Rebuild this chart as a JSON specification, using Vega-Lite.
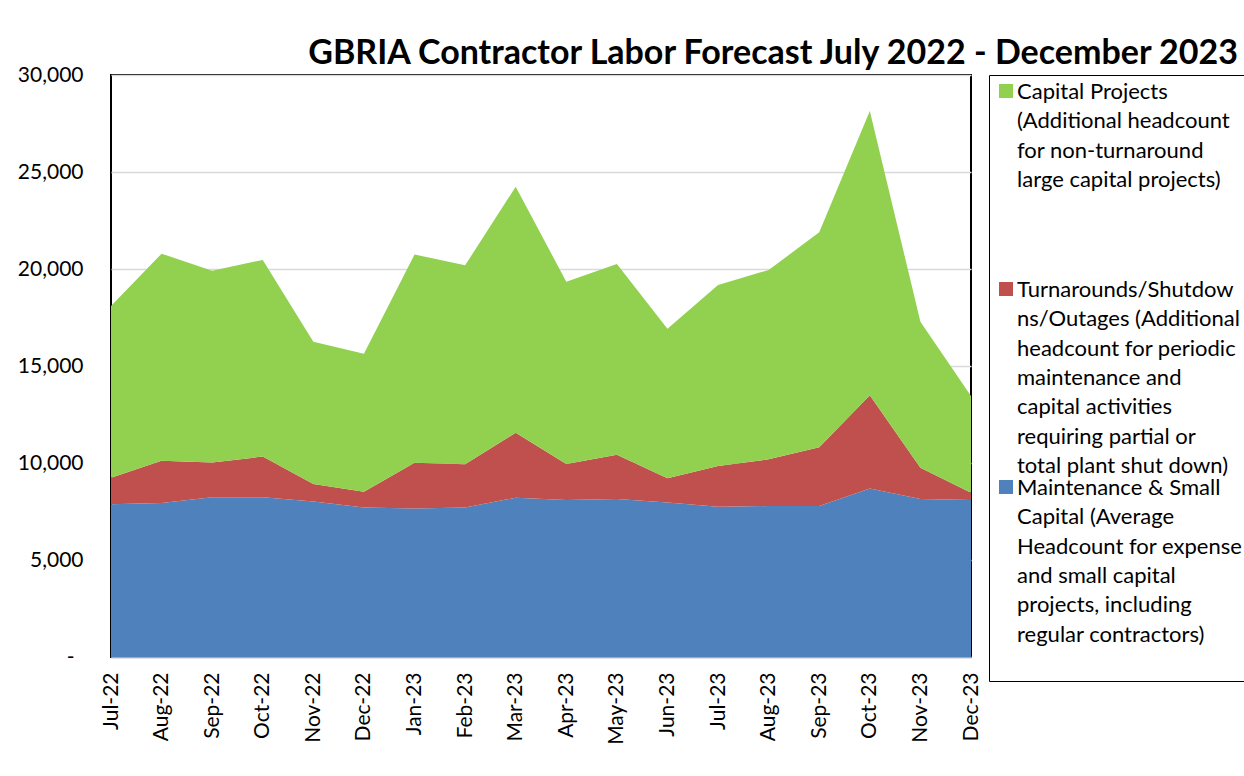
{
  "$schema": "https://vega.github.io/schema/vega-lite/v6.json",
  "width": 860,
  "height": 582,
  "padding": {"left": 17, "top": 37, "right": 0, "bottom": 0},
  "background": "white",
  "title": {
    "text": "GBRIA Contractor Labor Forecast July 2022 - December 2023",
    "anchor": "end",
    "frame": "group",
    "dx": 267,
    "offset": -7,
    "fontSize": 34,
    "font": "Lato",
    "fontWeight": "bold",
    "color": "#000000"
  },
  "data": {
    "values": [
      {"month": "Jul-22", "series": "Maintenance", "layer": 1, "value": 7870},
      {"month": "Aug-22", "series": "Maintenance", "layer": 1, "value": 7940},
      {"month": "Sep-22", "series": "Maintenance", "layer": 1, "value": 8230},
      {"month": "Oct-22", "series": "Maintenance", "layer": 1, "value": 8230},
      {"month": "Nov-22", "series": "Maintenance", "layer": 1, "value": 8010},
      {"month": "Dec-22", "series": "Maintenance", "layer": 1, "value": 7700},
      {"month": "Jan-23", "series": "Maintenance", "layer": 1, "value": 7660},
      {"month": "Feb-23", "series": "Maintenance", "layer": 1, "value": 7700},
      {"month": "Mar-23", "series": "Maintenance", "layer": 1, "value": 8210},
      {"month": "Apr-23", "series": "Maintenance", "layer": 1, "value": 8090},
      {"month": "May-23", "series": "Maintenance", "layer": 1, "value": 8140},
      {"month": "Jun-23", "series": "Maintenance", "layer": 1, "value": 7970},
      {"month": "Jul-23", "series": "Maintenance", "layer": 1, "value": 7750},
      {"month": "Aug-23", "series": "Maintenance", "layer": 1, "value": 7780},
      {"month": "Sep-23", "series": "Maintenance", "layer": 1, "value": 7780},
      {"month": "Oct-23", "series": "Maintenance", "layer": 1, "value": 8680},
      {"month": "Nov-23", "series": "Maintenance", "layer": 1, "value": 8140},
      {"month": "Dec-23", "series": "Maintenance", "layer": 1, "value": 8090},
      {"month": "Jul-22", "series": "Turnarounds", "layer": 2, "value": 1375},
      {"month": "Aug-22", "series": "Turnarounds", "layer": 2, "value": 2180},
      {"month": "Sep-22", "series": "Turnarounds", "layer": 2, "value": 1800},
      {"month": "Oct-22", "series": "Turnarounds", "layer": 2, "value": 2100},
      {"month": "Nov-22", "series": "Turnarounds", "layer": 2, "value": 910},
      {"month": "Dec-22", "series": "Turnarounds", "layer": 2, "value": 820},
      {"month": "Jan-23", "series": "Turnarounds", "layer": 2, "value": 2350},
      {"month": "Feb-23", "series": "Turnarounds", "layer": 2, "value": 2230},
      {"month": "Mar-23", "series": "Turnarounds", "layer": 2, "value": 3350},
      {"month": "Apr-23", "series": "Turnarounds", "layer": 2, "value": 1855},
      {"month": "May-23", "series": "Turnarounds", "layer": 2, "value": 2290},
      {"month": "Jun-23", "series": "Turnarounds", "layer": 2, "value": 1240},
      {"month": "Jul-23", "series": "Turnarounds", "layer": 2, "value": 2100},
      {"month": "Aug-23", "series": "Turnarounds", "layer": 2, "value": 2410},
      {"month": "Sep-23", "series": "Turnarounds", "layer": 2, "value": 3030},
      {"month": "Oct-23", "series": "Turnarounds", "layer": 2, "value": 4810},
      {"month": "Nov-23", "series": "Turnarounds", "layer": 2, "value": 1620},
      {"month": "Dec-23", "series": "Turnarounds", "layer": 2, "value": 380},
      {"month": "Jul-22", "series": "Capital Projects", "layer": 3, "value": 8850},
      {"month": "Aug-22", "series": "Capital Projects", "layer": 3, "value": 10670},
      {"month": "Sep-22", "series": "Capital Projects", "layer": 3, "value": 9880},
      {"month": "Oct-22", "series": "Capital Projects", "layer": 3, "value": 10140},
      {"month": "Nov-22", "series": "Capital Projects", "layer": 3, "value": 7335},
      {"month": "Dec-22", "series": "Capital Projects", "layer": 3, "value": 7115},
      {"month": "Jan-23", "series": "Capital Projects", "layer": 3, "value": 10740},
      {"month": "Feb-23", "series": "Capital Projects", "layer": 3, "value": 10260},
      {"month": "Mar-23", "series": "Capital Projects", "layer": 3, "value": 12680},
      {"month": "Apr-23", "series": "Capital Projects", "layer": 3, "value": 9400},
      {"month": "May-23", "series": "Capital Projects", "layer": 3, "value": 9830},
      {"month": "Jun-23", "series": "Capital Projects", "layer": 3, "value": 7710},
      {"month": "Jul-23", "series": "Capital Projects", "layer": 3, "value": 9330},
      {"month": "Aug-23", "series": "Capital Projects", "layer": 3, "value": 9760},
      {"month": "Sep-23", "series": "Capital Projects", "layer": 3, "value": 11080},
      {"month": "Oct-23", "series": "Capital Projects", "layer": 3, "value": 14650},
      {"month": "Nov-23", "series": "Capital Projects", "layer": 3, "value": 7525},
      {"month": "Dec-23", "series": "Capital Projects", "layer": 3, "value": 4985}
    ]
  },
  "mark": {"type": "area", "opacity": 1},
  "encoding": {
    "x": {
      "field": "month",
      "type": "ordinal",
      "sort": ["Jul-22", "Aug-22", "Sep-22", "Oct-22", "Nov-22", "Dec-22", "Jan-23", "Feb-23", "Mar-23", "Apr-23", "May-23", "Jun-23", "Jul-23", "Aug-23", "Sep-23", "Oct-23", "Nov-23", "Dec-23"],
      "scale": {"type": "point", "padding": 0},
      "axis": {
        "title": null,
        "labelAngle": -90,
        "labelFontSize": 21,
        "labelPadding": 15,
        "ticks": false,
        "tickSize": 0,
        "domainColor": "#A6A6A6",
        "domainWidth": 1.5,
        "grid": false
      }
    },
    "y": {
      "field": "value",
      "type": "quantitative",
      "stack": "zero",
      "scale": {"domain": [0, 30000], "nice": false},
      "axis": {
        "title": null,
        "values": [0, 5000, 10000, 15000, 20000, 25000, 30000],
        "labelExpr": "datum.value === 0 ? '-' : format(datum.value, ',')",
        "labelFontSize": 21,
        "labelPadding": {"condition": {"test": "datum.value === 0", "value": 37}, "value": 28},
        "ticks": false,
        "tickSize": 0,
        "domain": false,
        "gridColor": "#D9D9D9",
        "gridWidth": 1.5
      }
    },
    "color": {
      "field": "series",
      "type": "nominal",
      "scale": {
        "domain": ["Capital Projects", "Turnarounds", "Maintenance"],
        "range": ["#92D050", "#C0504D", "#4F81BD"]
      },
      "legend": {
        "title": " ",
        "titleFontSize": 1,
        "titlePadding": 6,
        "orient": "right",
        "offset": 18,
        "padding": 6,
        "strokeColor": "#000000",
        "fillColor": "#ffffff",
        "labelFont": "Lato",
        "labelFontSize": 22,
        "labelColor": "#000000",
        "labelLimit": 400,
        "labelBaseline": "alphabetic",
        "labelOffset": 0,
        "symbolType": "M-1,-2.14L1,-2.14L1,-0.14L-1,-0.14Z",
        "symbolSize": 196,
        "symbolStrokeWidth": 0,
        "symbolOpacity": 1,
        "gridAlign": "all",
        "rowPadding": 0,
        "labelExpr": "datum.label == 'Capital Projects' ? ['Capital Projects', '(Additional headcount', 'for non-turnaround', 'large capital projects)'] : datum.label == 'Turnarounds' ? ['Turnarounds/Shutdow', 'ns/Outages (Additional', 'headcount for periodic', 'maintenance and', 'capital activities', 'requiring partial or', 'total plant shut down)'] : ['Maintenance & Small', 'Capital (Average', 'Headcount for expense', 'and small capital', 'projects, including', 'regular contractors)', '']"
      }
    },
    "order": {"field": "layer", "type": "quantitative"}
  },
  "config": {
    "font": "Lato",
    "view": {"stroke": "#000000", "strokeWidth": 2},
    "axis": {"labelColor": "#000000", "labelFont": "Lato"},
    "style": {"guide-label": {"lineHeight": 29.3}}
  }
}
